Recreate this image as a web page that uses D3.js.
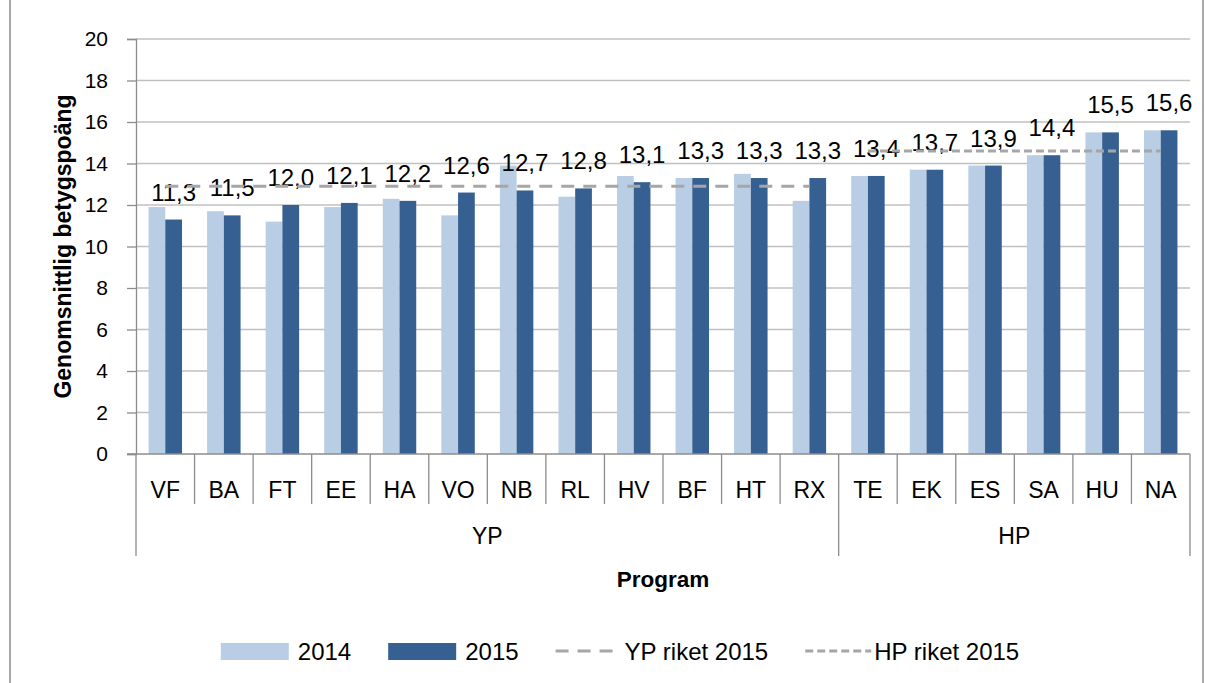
<!DOCTYPE html>
<html>
<head>
<meta charset="utf-8">
<script src="https://cdn.jsdelivr.net/npm/d3@7"></script>
<style>
  html, body { margin: 0; padding: 0; background: #fff; }
  svg { display: block; font-family: "Liberation Sans", Arial, sans-serif; }
</style>
</head>
<body>
<svg id="chart"></svg>
<script>
// ---------------------------------------------------------------------------
// Data
// ---------------------------------------------------------------------------
const programs = ["VF", "BA", "FT", "EE", "HA", "VO", "NB", "RL", "HV", "BF", "HT", "RX",
                  "TE", "EK", "ES", "SA", "HU", "NA"];
const programGroup = ["YP", "YP", "YP", "YP", "YP", "YP", "YP", "YP", "YP", "YP", "YP", "YP",
                      "HP", "HP", "HP", "HP", "HP", "HP"];
const groups = ["YP", "HP"];
const values2014 = [11.9, 11.7, 11.2, 11.9, 12.3, 11.5, 13.9, 12.4, 13.4, 13.3, 13.5, 12.2,
                    13.4, 13.7, 13.9, 14.4, 15.5, 15.6];
const values2015 = [11.3, 11.5, 12.0, 12.1, 12.2, 12.6, 12.7, 12.8, 13.1, 13.3, 13.3, 13.3,
                    13.4, 13.7, 13.9, 14.4, 15.5, 15.6];
const ypRiket2015 = [12.9, 12.9, 12.9, 12.9, 12.9, 12.9, 12.9, 12.9, 12.9, 12.9, 12.9, 12.9,
                     null, null, null, null, null, null];
const hpRiket2015 = [null, null, null, null, null, null, null, null, null, null, null, null,
                     14.6, 14.6, 14.6, 14.6, 14.6, 14.6];
const yTicks = [0, 2, 4, 6, 8, 10, 12, 14, 16, 18, 20];
const seriesNames = ["2014", "2015", "YP riket 2015", "HP riket 2015"];

// ---------------------------------------------------------------------------
// Layout
// ---------------------------------------------------------------------------
const W = 1206, H = 683;
const plot = { left: 136, right: 1190, top: 39, bottom: 454 };
const COLORS = { light: "#b9cde5", dark: "#376092", riket: "#a6a6a6",
                 grid: "#c0c0c0", axis: "#8c8c8c" };

const svg = d3.select("#chart").attr("width", W).attr("height", H);

// outer chart border
svg.append("rect")
  .attr("x", 10).attr("y", -2).attr("width", 1193).attr("height", H + 4)
  .attr("fill", "none").attr("stroke", COLORS.axis).attr("stroke-width", 1.5);

const x0 = d3.scaleBand().domain(programs).range([plot.left, plot.right]).padding(0);
const x1 = d3.scaleBand().domain(["2014", "2015"]).range([0, x0.bandwidth()])
  .paddingInner(0).paddingOuter(0.75);
const y = d3.scaleLinear().domain([0, 20]).range([plot.bottom, plot.top]);

const fmt = v => d3.format(".1f")(v).replace(".", ",");

// gridlines
svg.append("g")
  .selectAll("line")
  .data(yTicks.filter(t => t > 0))
  .join("line")
  .attr("x1", plot.left).attr("x2", plot.right)
  .attr("y1", d => y(d)).attr("y2", d => y(d))
  .attr("stroke", COLORS.grid).attr("stroke-width", 1.3);

// y axis
const yAxis = svg.append("g")
  .attr("transform", `translate(${plot.left},0)`)
  .call(d3.axisLeft(y).tickValues(yTicks).tickSize(9).tickPadding(19).tickFormat(d3.format("d")));
yAxis.attr("font-size", null).attr("font-family", null);
yAxis.select(".domain").attr("stroke", COLORS.axis).attr("stroke-width", 1.3);
yAxis.selectAll(".tick line").attr("stroke", COLORS.axis).attr("stroke-width", 1.3);
yAxis.selectAll(".tick text").attr("font-size", 21).attr("fill", "#000");

// bars
const rows = programs.map((p, i) => ({ p, v2014: values2014[i], v2015: values2015[i] }));
const barGroups = svg.append("g").selectAll("g")
  .data(rows).join("g")
  .attr("transform", d => `translate(${x0(d.p)},0)`);

barGroups.append("rect")
  .attr("x", x1("2014")).attr("width", x1.bandwidth())
  .attr("y", d => y(d.v2014)).attr("height", d => y(0) - y(d.v2014))
  .attr("fill", COLORS.light);
barGroups.append("rect")
  .attr("x", x1("2015")).attr("width", x1.bandwidth())
  .attr("y", d => y(d.v2015)).attr("height", d => y(0) - y(d.v2015))
  .attr("fill", COLORS.dark);

// riket lines
const line = d3.line()
  .defined(d => d.v != null)
  .x(d => x0(d.p) + x0.bandwidth() / 2)
  .y(d => y(d.v));

svg.append("path")
  .datum(programs.map((p, i) => ({ p, v: ypRiket2015[i] })))
  .attr("d", line).attr("fill", "none")
  .attr("stroke", COLORS.riket).attr("stroke-width", 3)
  .attr("stroke-dasharray", "13,9");
svg.append("path")
  .datum(programs.map((p, i) => ({ p, v: hpRiket2015[i] })))
  .attr("d", line).attr("fill", "none")
  .attr("stroke", COLORS.riket).attr("stroke-width", 3)
  .attr("stroke-dasharray", "8,4");

// data labels (2015)
barGroups.append("text")
  .attr("x", x1("2015") + x1.bandwidth() / 2)
  .attr("y", d => y(d.v2015) - 19)
  .attr("text-anchor", "middle")
  .attr("font-size", 24)
  .text(d => fmt(d.v2015));

// x axis line
svg.append("line")
  .attr("x1", plot.left - 9).attr("x2", plot.right)
  .attr("y1", plot.bottom).attr("y2", plot.bottom)
  .attr("stroke", COLORS.axis).attr("stroke-width", 1.3);

// category separators
const boundaries = programs.map((p, i) => ({
  x: x0(p),
  long: i === 0 || programGroup[i] !== programGroup[i - 1]
}));
boundaries.push({ x: plot.right, long: true });

svg.append("g").selectAll("line")
  .data(boundaries).join("line")
  .attr("x1", d => d.x).attr("x2", d => d.x)
  .attr("y1", plot.bottom).attr("y2", d => d.long ? 556 : 504)
  .attr("stroke", COLORS.axis).attr("stroke-width", 1.3);

// category labels
svg.append("g").selectAll("text")
  .data(programs).join("text")
  .attr("x", d => x0(d) + x0.bandwidth() / 2)
  .attr("y", 498)
  .attr("text-anchor", "middle")
  .attr("font-size", 23)
  .text(d => d);

// group labels
svg.append("g").selectAll("text")
  .data(groups).join("text")
  .attr("x", g => {
    const members = programs.filter((p, i) => programGroup[i] === g);
    return (x0(members[0]) + x0(members[members.length - 1]) + x0.bandwidth()) / 2;
  })
  .attr("y", 544)
  .attr("text-anchor", "middle")
  .attr("font-size", 23)
  .text(g => g);

// axis titles
svg.append("text")
  .attr("x", (plot.left + plot.right) / 2).attr("y", 587)
  .attr("text-anchor", "middle")
  .attr("font-size", 22.5).attr("font-weight", "bold")
  .text("Program");

svg.append("text")
  .attr("transform", `translate(71,${(plot.top + plot.bottom) / 2}) rotate(-90)`)
  .attr("text-anchor", "middle")
  .attr("font-size", 23).attr("font-weight", "bold")
  .text("Genomsnittlig betygspoäng");

// legend
const legend = svg.append("g");
const legendStyles = [
  { type: "rect", color: COLORS.light },
  { type: "rect", color: COLORS.dark },
  { type: "line", dash: "13,9" },
  { type: "line", dash: "8,4" }
];
let lx = 0;
seriesNames.forEach((name, i) => {
  const item = legend.append("g").attr("transform", `translate(${lx},0)`);
  const st = legendStyles[i];
  if (st.type === "rect") {
    item.append("rect").attr("x", 0).attr("y", -8).attr("width", 68).attr("height", 17)
      .attr("fill", st.color);
  } else {
    item.append("line").attr("x1", 0).attr("x2", 66).attr("y1", 0).attr("y2", 0)
      .attr("stroke", COLORS.riket).attr("stroke-width", 3).attr("stroke-dasharray", st.dash);
  }
  const t = item.append("text").attr("x", st.type === "rect" ? 77 : 69).attr("y", 9)
    .attr("font-size", 24).text(name);
  lx += (st.type === "rect" ? 77 : 69) + t.node().getComputedTextLength() + 37;
});
const legendWidth = lx - 37;
legend.attr("transform", `translate(${620 - legendWidth / 2},651)`);
</script>
</body>
</html>
